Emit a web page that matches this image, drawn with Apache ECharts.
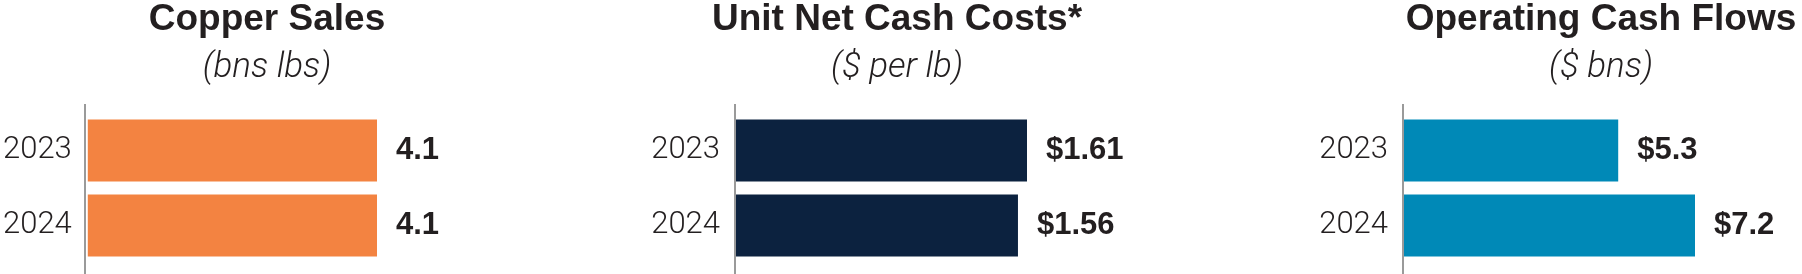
<!DOCTYPE html>
<html>
<head>
<meta charset="utf-8">
<script src="https://cdn.jsdelivr.net/npm/echarts@6/dist/echarts.min.js"></script>
<style>
html,body{margin:0;padding:0;background:#fff;}
#c{width:1802px;height:274px;}
</style>
</head>
<body>
<div id="c"></div>
<script>
// ---- data ----
const years = ['2023', '2024'];
const copperSales = [4.1, 4.1];
const unitNetCashCosts = [1.61, 1.56];
const operatingCashFlows = [5.3, 7.2];
const titles = ['Copper Sales', 'Unit Net Cash Costs*', 'Operating Cash Flows'];
const subtitles = ['(bns lbs)', '($ per lb)', '($ bns)'];
const labelPrefixes = ['', '$', '$'];
const labelDecimals = [1, 2, 1];

// ---- layout / style ----
const seriesValues = [copperSales, unitNetCashCosts, operatingCashFlows];
const colors = ['#F38341', '#0C223F', '#0089B7'];
const gridLefts = [86, 736, 1404];
const centers = [267, 897, 1601];
const gridWidth = 291;
const gridTop = 113;
const gridHeight = 150;
const textColor = '#231F20';
const fontFamily = '"Liberation Sans", Arial, Helvetica, sans-serif';
const lightFamily = 'Roboto, "Liberation Sans", Arial, sans-serif';

const chart = echarts.init(document.getElementById('c'));

const grid = [], xAxis = [], yAxis = [], series = [], title = [], graphic = [];
for (let i = 0; i < 3; i++) {
  grid.push({left: gridLefts[i], top: gridTop, width: gridWidth, height: gridHeight, containLabel: false});
  xAxis.push({
    type: 'value', gridIndex: i, min: 0, max: 'dataMax', show: false
  });
  yAxis.push({
    type: 'category', gridIndex: i, data: years, inverse: true,
    axisLine: {show: false}, axisTick: {show: false}, splitLine: {show: false},
    axisLabel: {margin: 16, fontSize: 31, fontWeight: 300, color: textColor, fontFamily: lightFamily}
  });
  series.push({
    type: 'bar', xAxisIndex: i, yAxisIndex: i, data: seriesValues[i],
    barWidth: 62, itemStyle: {color: colors[i]},
    label: {
      show: true, position: 'right', distance: 19,
      fontSize: 31, fontWeight: 'bold', color: textColor, fontFamily: fontFamily,
      formatter: (p => labelPrefixes[i] + p.value.toFixed(labelDecimals[i]))
    },
    silent: true, animation: false
  });
  title.push({
    text: titles[i], left: centers[i], top: 20, padding: 0,
    textAlign: 'center', textVerticalAlign: 'middle',
    textStyle: {fontSize: 37, fontWeight: 'bold', color: textColor, fontFamily: fontFamily}
  });
  title.push({
    text: subtitles[i], left: centers[i], top: 68, padding: 0,
    textAlign: 'center', textVerticalAlign: 'middle',
    textStyle: {fontSize: 35, fontWeight: 300, fontStyle: 'italic', color: textColor, fontFamily: lightFamily}
  });
  graphic.push({
    type: 'line', silent: true,
    shape: {x1: gridLefts[i] - 1, y1: 104, x2: gridLefts[i] - 1, y2: 274},
    style: {stroke: '#9A9A9A', lineWidth: 2}
  });
}

chart.setOption({
  animation: false,
  backgroundColor: '#ffffff',
  title: title,
  grid: grid,
  xAxis: xAxis,
  yAxis: yAxis,
  series: series,
  graphic: graphic
});
</script>
</body>
</html>
